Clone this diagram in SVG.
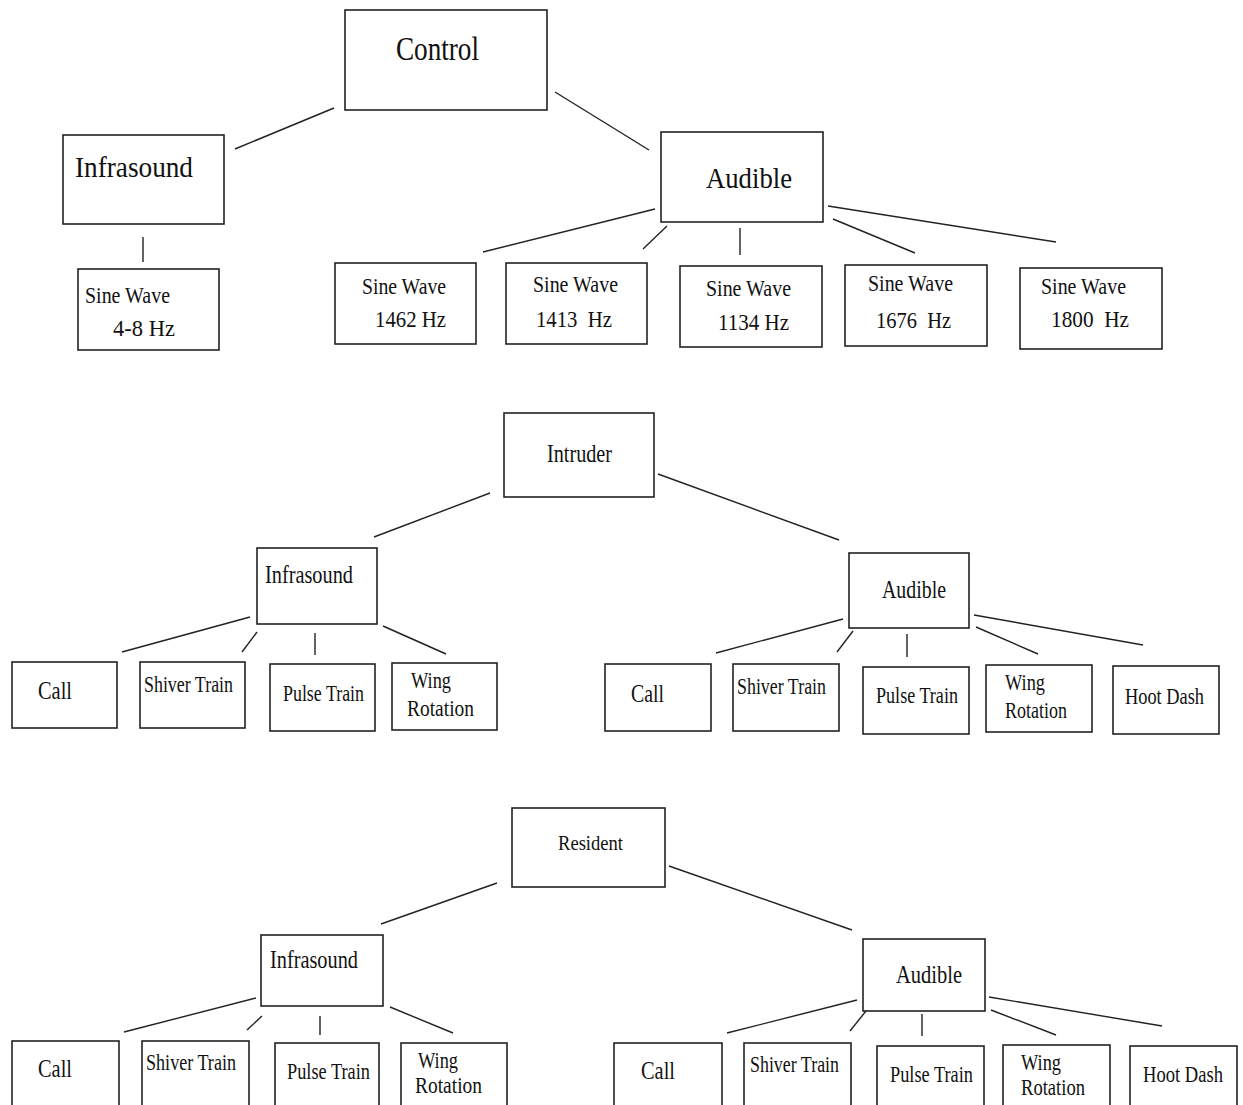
<svg xmlns="http://www.w3.org/2000/svg" width="1243" height="1105" viewBox="0 0 1243 1105" xml:space="preserve">
<style>
rect{fill:#fff;stroke:#222;stroke-width:1.6}
line{stroke:#222;stroke-width:1.4}
text{font-family:"Liberation Serif","Times New Roman",serif;fill:#111;white-space:pre}
.xl{font-size:33px}
.l{font-size:30px}
.m{font-size:26px}
.s{font-size:23px}
.sw{font-size:23px}
.r{font-size:21px}
</style>
<rect x="0" y="0" width="1243" height="1105" style="fill:#fff;stroke:none"/>
<g id="connectors">
<line x1="334" y1="108" x2="235" y2="149"/>
<line x1="555" y1="92" x2="649" y2="150"/>
<line x1="143" y1="237" x2="143" y2="262"/>
<line x1="655" y1="209" x2="483" y2="252"/>
<line x1="667" y1="226" x2="643" y2="249"/>
<line x1="740" y1="228" x2="740" y2="255"/>
<line x1="833" y1="219" x2="915" y2="253"/>
<line x1="828" y1="206" x2="1056" y2="242"/>
<line x1="490" y1="493" x2="374" y2="537"/>
<line x1="658" y1="474" x2="839" y2="540"/>
<line x1="250" y1="617" x2="122" y2="652"/>
<line x1="257" y1="632" x2="242" y2="652"/>
<line x1="315" y1="633" x2="315" y2="655"/>
<line x1="383" y1="626" x2="446" y2="654"/>
<line x1="843" y1="619" x2="716" y2="653"/>
<line x1="853" y1="631" x2="837" y2="652"/>
<line x1="907" y1="634" x2="907" y2="657"/>
<line x1="976" y1="627" x2="1038" y2="654"/>
<line x1="974" y1="615" x2="1143" y2="645"/>
<line x1="497" y1="883" x2="381" y2="924"/>
<line x1="669" y1="866" x2="852" y2="930"/>
<line x1="256" y1="998" x2="124" y2="1032"/>
<line x1="262" y1="1016" x2="247" y2="1030"/>
<line x1="320" y1="1016" x2="320" y2="1035"/>
<line x1="390" y1="1007" x2="453" y2="1033"/>
<line x1="857" y1="1000" x2="727" y2="1033"/>
<line x1="866" y1="1011" x2="850" y2="1031"/>
<line x1="922" y1="1014" x2="922" y2="1036"/>
<line x1="991" y1="1010" x2="1056" y2="1035"/>
<line x1="989" y1="997" x2="1162" y2="1026"/>
</g>
<g id="control"><rect x="345" y="10" width="202" height="100"/><text class="xl" x="396" y="60" textLength="83" lengthAdjust="spacingAndGlyphs">Control</text></g>
<g id="c-infrasound"><rect x="63" y="135" width="161" height="89"/><text class="l" x="75" y="177" textLength="118" lengthAdjust="spacingAndGlyphs">Infrasound</text></g>
<g id="c-sine-48"><rect x="78" y="269" width="141" height="81"/><text class="sw" x="85" y="303" textLength="85" lengthAdjust="spacingAndGlyphs">Sine Wave</text><text class="sw" x="113" y="336" textLength="62" lengthAdjust="spacingAndGlyphs">4-8 Hz</text></g>
<g id="c-audible"><rect x="661" y="132" width="162" height="90"/><text class="l" x="706" y="188" textLength="86" lengthAdjust="spacingAndGlyphs">Audible</text></g>
<g id="c-sine-1462"><rect x="335" y="263" width="141" height="81"/><text class="sw" x="362" y="294" textLength="84" lengthAdjust="spacingAndGlyphs">Sine Wave</text><text class="sw" x="375" y="327" textLength="71" lengthAdjust="spacingAndGlyphs">1462 Hz</text></g>
<g id="c-sine-1413"><rect x="506" y="263" width="141" height="81"/><text class="sw" x="533" y="292" textLength="85" lengthAdjust="spacingAndGlyphs">Sine Wave</text><text class="sw" x="536" y="327" textLength="76" lengthAdjust="spacingAndGlyphs">1413  Hz</text></g>
<g id="c-sine-1134"><rect x="680" y="266" width="142" height="81"/><text class="sw" x="706" y="296" textLength="85" lengthAdjust="spacingAndGlyphs">Sine Wave</text><text class="sw" x="718" y="330" textLength="71" lengthAdjust="spacingAndGlyphs">1134 Hz</text></g>
<g id="c-sine-1676"><rect x="845" y="265" width="142" height="81"/><text class="sw" x="868" y="291" textLength="85" lengthAdjust="spacingAndGlyphs">Sine Wave</text><text class="sw" x="876" y="328" textLength="75" lengthAdjust="spacingAndGlyphs">1676  Hz</text></g>
<g id="c-sine-1800"><rect x="1020" y="268" width="142" height="81"/><text class="sw" x="1041" y="294" textLength="85" lengthAdjust="spacingAndGlyphs">Sine Wave</text><text class="sw" x="1051" y="327" textLength="78" lengthAdjust="spacingAndGlyphs">1800  Hz</text></g>
<g id="intruder"><rect x="504" y="413" width="150" height="84"/><text class="m" x="547" y="462" textLength="65" lengthAdjust="spacingAndGlyphs">Intruder</text></g>
<g id="i-infrasound"><rect x="257" y="548" width="120" height="76"/><text class="m" x="265" y="583" textLength="88" lengthAdjust="spacingAndGlyphs">Infrasound</text></g>
<g id="i-i-call"><rect x="12" y="662" width="105" height="66"/><text class="m" x="38" y="699" textLength="34" lengthAdjust="spacingAndGlyphs">Call</text></g>
<g id="i-i-shiver"><rect x="140" y="662" width="105" height="66"/><text class="s" x="144" y="692" textLength="89" lengthAdjust="spacingAndGlyphs">Shiver Train</text></g>
<g id="i-i-pulse"><rect x="270" y="664" width="105" height="67"/><text class="s" x="283" y="701" textLength="81" lengthAdjust="spacingAndGlyphs">Pulse Train</text></g>
<g id="i-i-wing"><rect x="392" y="663" width="105" height="67"/><text class="s" x="411" y="688" textLength="40" lengthAdjust="spacingAndGlyphs">Wing</text><text class="s" x="407" y="716" textLength="67" lengthAdjust="spacingAndGlyphs">Rotation</text></g>
<g id="i-audible"><rect x="849" y="553" width="120" height="75"/><text class="m" x="882" y="598" textLength="64" lengthAdjust="spacingAndGlyphs">Audible</text></g>
<g id="i-a-call"><rect x="605" y="664" width="106" height="67"/><text class="m" x="631" y="702" textLength="33" lengthAdjust="spacingAndGlyphs">Call</text></g>
<g id="i-a-shiver"><rect x="733" y="664" width="106" height="67"/><text class="s" x="737" y="694" textLength="89" lengthAdjust="spacingAndGlyphs">Shiver Train</text></g>
<g id="i-a-pulse"><rect x="863" y="667" width="106" height="67"/><text class="s" x="876" y="703" textLength="82" lengthAdjust="spacingAndGlyphs">Pulse Train</text></g>
<g id="i-a-wing"><rect x="986" y="665" width="106" height="67"/><text class="s" x="1005" y="690" textLength="40" lengthAdjust="spacingAndGlyphs">Wing</text><text class="s" x="1005" y="718" textLength="62" lengthAdjust="spacingAndGlyphs">Rotation</text></g>
<g id="i-a-hoot"><rect x="1113" y="666" width="106" height="68"/><text class="s" x="1125" y="704" textLength="79" lengthAdjust="spacingAndGlyphs">Hoot Dash</text></g>
<g id="resident"><rect x="512" y="808" width="153" height="79"/><text class="r" x="558" y="850" textLength="65" lengthAdjust="spacingAndGlyphs">Resident</text></g>
<g id="r-infrasound"><rect x="261" y="935" width="122" height="71"/><text class="m" x="270" y="968" textLength="88" lengthAdjust="spacingAndGlyphs">Infrasound</text></g>
<g id="r-i-call"><rect x="12" y="1041" width="107" height="80"/><text class="m" x="38" y="1077" textLength="34" lengthAdjust="spacingAndGlyphs">Call</text></g>
<g id="r-i-shiver"><rect x="142" y="1041" width="107" height="80"/><text class="s" x="146" y="1070" textLength="90" lengthAdjust="spacingAndGlyphs">Shiver Train</text></g>
<g id="r-i-pulse"><rect x="275" y="1043" width="104" height="80"/><text class="s" x="287" y="1079" textLength="83" lengthAdjust="spacingAndGlyphs">Pulse Train</text></g>
<g id="r-i-wing"><rect x="401" y="1043" width="106" height="80"/><text class="s" x="418" y="1068" textLength="40" lengthAdjust="spacingAndGlyphs">Wing</text><text class="s" x="415" y="1093" textLength="67" lengthAdjust="spacingAndGlyphs">Rotation</text></g>
<g id="r-audible"><rect x="863" y="939" width="122" height="72"/><text class="m" x="896" y="983" textLength="66" lengthAdjust="spacingAndGlyphs">Audible</text></g>
<g id="r-a-call"><rect x="614" y="1043" width="108" height="80"/><text class="m" x="641" y="1079" textLength="34" lengthAdjust="spacingAndGlyphs">Call</text></g>
<g id="r-a-shiver"><rect x="744" y="1043" width="107" height="80"/><text class="s" x="750" y="1072" textLength="89" lengthAdjust="spacingAndGlyphs">Shiver Train</text></g>
<g id="r-a-pulse"><rect x="877" y="1046" width="107" height="80"/><text class="s" x="890" y="1082" textLength="83" lengthAdjust="spacingAndGlyphs">Pulse Train</text></g>
<g id="r-a-wing"><rect x="1003" y="1045" width="107" height="80"/><text class="s" x="1021" y="1070" textLength="40" lengthAdjust="spacingAndGlyphs">Wing</text><text class="s" x="1021" y="1095" textLength="64" lengthAdjust="spacingAndGlyphs">Rotation</text></g>
<g id="r-a-hoot"><rect x="1130" y="1046" width="107" height="80"/><text class="s" x="1143" y="1082" textLength="80" lengthAdjust="spacingAndGlyphs">Hoot Dash</text></g>
</svg>
